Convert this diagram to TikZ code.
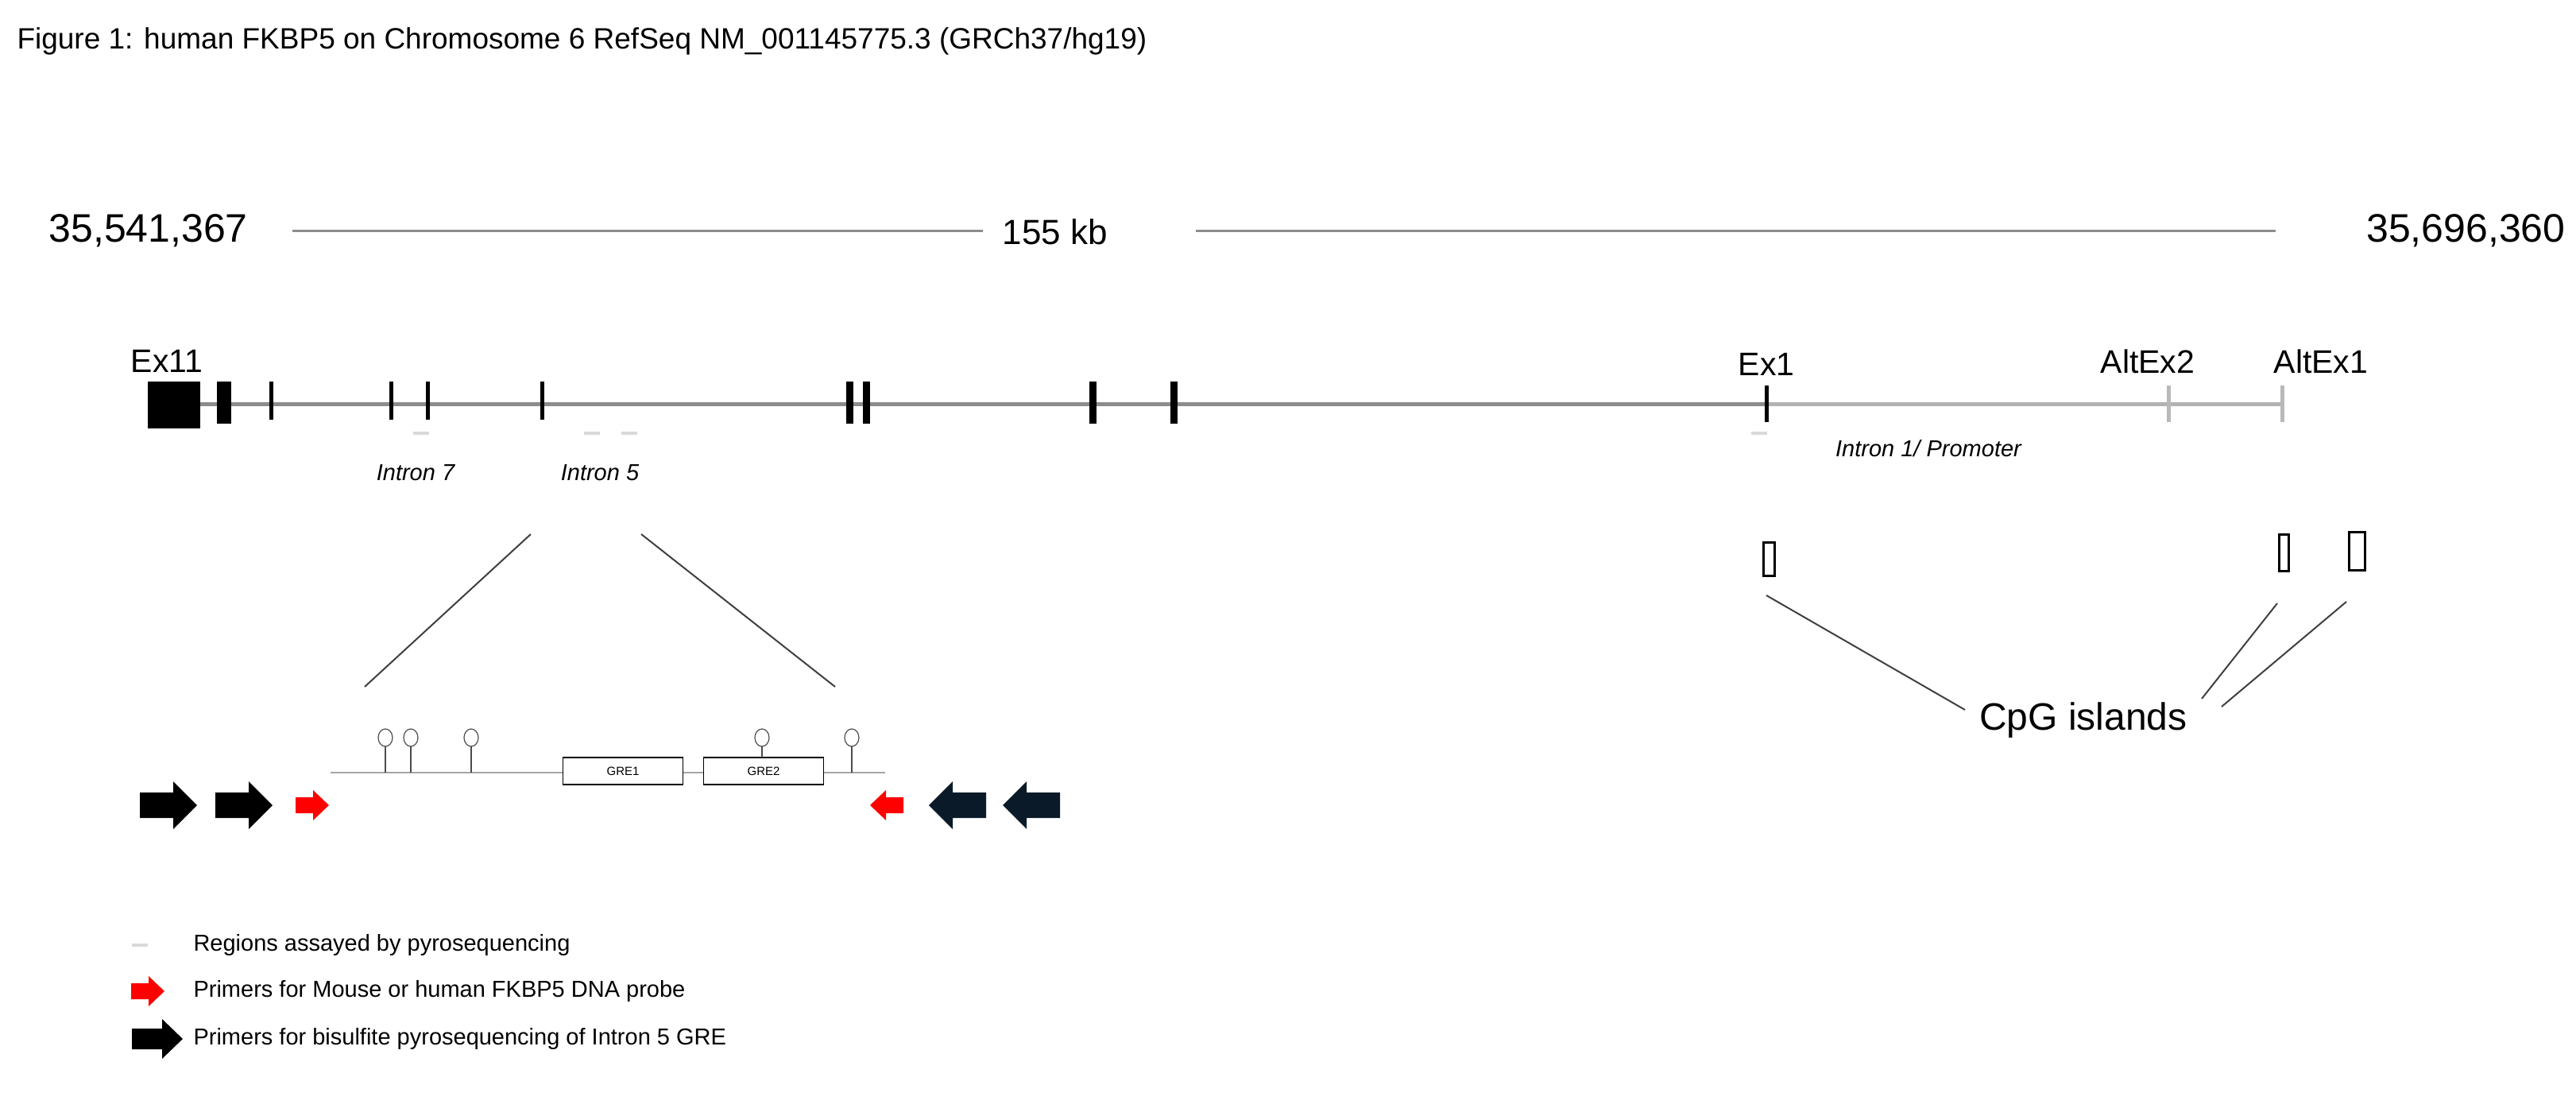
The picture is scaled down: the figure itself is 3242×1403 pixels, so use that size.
\documentclass[tikz,border=0pt]{standalone}
\usepackage{fontspec}
\setmainfont{Liberation Sans}
\begin{document}
\begin{tikzpicture}[x=1pt,y=-1pt,
  fs/.style={font=\fontsize{#1}{#1}\selectfont},
  ifs/.style={font=\fontsize{#1}{#1}\selectfont\itshape},
  ex/.style={fill=black,draw=none},
  gline/.style={line width=5pt,color=gray!90},
  pyro/.style={line width=4pt,color=gray!30},
  thin/.style={line width=2pt,color=black!75},
  lolli/.style={draw=black!70,line width=1.2pt}]
\useasboundingbox (0,0) rectangle (3242,1403);
\fill[white] (0,0) rectangle (3242,1403);
% title
\node[fs=37,anchor=west] (title) at (18,52) {Figure 1: human FKBP5 on Chromosome 6 RefSeq NM\_001145775.3 (GRCh37/hg19)};
% scale
\node[fs=50,anchor=west] (lpos) at (58,290) {35,541,367};
\node[fs=44] (kb) at (1328,292) {155 kb};
\node[fs=50,anchor=east] (rpos) at (3232,290) {35,696,360};
\draw[line width=3pt,gray!90] (368,290) -- (1237,290);
\draw[line width=3pt,gray!90] (1505,290) -- (2864,290);
\begin{scope}[yshift=-8pt]
% gene line
\draw[gline] (186,500) -- (2223,500);
\draw[gline,gray!60] (2223,500) -- (2872,500);
\fill[ex] (186,472) rectangle (252,531);
\fill[ex] (273,472) rectangle (291,525);
\foreach \x in {341,492,538,682} \draw[line width=5pt] (\x,472) -- (\x,520);
\foreach \x in {1069,1090,1375,1477} \draw[line width=9pt] (\x,472) -- (\x,525);
\draw[line width=5pt] (2223,477) -- (2223,523);
\draw[line width=5pt,gray!55] (2729,477) -- (2729,523);
\draw[line width=5pt,gray!55] (2872,477) -- (2872,523);
\node[fs=41] (ex11) at (210,446) {Ex11};
\node[fs=41] (ex1) at (2223,450) {Ex1};
\node[fs=41] (altex2) at (2703,447) {AltEx2};
\node[fs=41] (altex1) at (2921,447) {AltEx1};
% pyro regions
\foreach \x in {530,745,792,2214} \draw[pyro] (\x-10,537) -- (\x+10,537);
\node[ifs=29] (i7) at (523,587) {Intron 7};
\node[ifs=29] (i5) at (755,587) {Intron 5};
\node[ifs=29] (i1) at (2427,556) {Intron 1/ Promoter};
\end{scope}
% CpG islands
\node[draw,line width=3pt,minimum width=14pt,minimum height=42pt,inner sep=0pt] (c1) at (2226,703) {};
\node[draw,line width=3pt,minimum width=12pt,minimum height=46pt,inner sep=0pt] (c2) at (2874,695) {};
\node[draw,line width=3pt,minimum width=20pt,minimum height=48pt,inner sep=0pt] (c3) at (2966,693) {};
\node[fs=48] (cpg) at (2622,906) {CpG islands};
\coordinate (k1) at (2473,893); \coordinate (k2) at (2771,879); \coordinate (k3) at (2796,889);
\coordinate (b1) at (2223,749); \coordinate (b2) at (2866,759); \coordinate (b3) at (2953,757);
\draw[thin] (b1) -- (k1); \draw[thin] (b2) -- (k2); \draw[thin] (b3) -- (k3);
% zoom lines
\coordinate (z1) at (668,672); \coordinate (z2) at (459,864);
\coordinate (z3) at (807,672); \coordinate (z4) at (1051,864);
\draw[thin] (z1) -- (z2); \draw[thin] (z3) -- (z4);
% inset
\draw[line width=2.5pt,gray!70] (416,972) -- (1114,972);
\node[draw,fill=white,line width=1.5pt,minimum width=151pt,minimum height=34pt,inner sep=0pt,fs=15] (gre1) at (784,970) {GRE1};
\node[draw,fill=white,line width=1.5pt,minimum width=151pt,minimum height=34pt,inner sep=0pt,fs=15] (gre2) at (961,970) {GRE2};
\foreach \x in {485,517,593,1072} {\draw[lolli] (\x,972) -- (\x,939); \draw[lolli,fill=white] (\x,928) ellipse (9 and 11);}
\draw[lolli] (959,953) -- (959,939); \draw[lolli,fill=white] (959,928) ellipse (9 and 11);
% arrows
\newcommand{\bigarr}[3]{\fill[#3] (#1,#2-16) -- (#1+42,#2-16) -- (#1+42,#2-30) -- (#1+72,#2) -- (#1+42,#2+30) -- (#1+42,#2+16) -- (#1,#2+16) -- cycle;}
\newcommand{\bigarl}[3]{\fill[#3] (#1,#2-16) -- (#1-42,#2-16) -- (#1-42,#2-30) -- (#1-72,#2) -- (#1-42,#2+30) -- (#1-42,#2+16) -- (#1,#2+16) -- cycle;}
\newcommand{\legarr}[3]{\fill[#3] (#1,#2-13) -- (#1+38,#2-13) -- (#1+38,#2-25) -- (#1+64,#2) -- (#1+38,#2+25) -- (#1+38,#2+13) -- (#1,#2+13) -- cycle;}
\newcommand{\smarr}[3]{\fill[#3] (#1,#2-10) -- (#1+22,#2-10) -- (#1+22,#2-19) -- (#1+42,#2) -- (#1+22,#2+19) -- (#1+22,#2+10) -- (#1,#2+10) -- cycle;}
\newcommand{\smarl}[3]{\fill[#3] (#1,#2-10) -- (#1-22,#2-10) -- (#1-22,#2-19) -- (#1-42,#2) -- (#1-22,#2+19) -- (#1-22,#2+10) -- (#1,#2+10) -- cycle;}
\bigarr{176}{1013}{black}
\bigarr{271}{1013}{black}
\smarr{372}{1013}{red}
\smarl{1137}{1013}{red}
\definecolor{navy}{HTML}{0B1A28}
\bigarl{1241}{1013}{navy}
\bigarl{1334}{1013}{navy}
% legend
\draw[pyro] (166,1189) -- (186,1189);
\node[fs=29,anchor=west] (l1) at (240,1189) {Regions assayed by pyrosequencing};
\smarr{165}{1247}{red}
\node[fs=29,anchor=west] (l2) at (240,1247) {Primers for Mouse or human FKBP5 DNA probe};
\legarr{166}{1307}{black}
\node[fs=29,anchor=west] (l3) at (240,1307) {Primers for bisulfite pyrosequencing of Intron 5 GRE};
\end{tikzpicture}
\end{document}
